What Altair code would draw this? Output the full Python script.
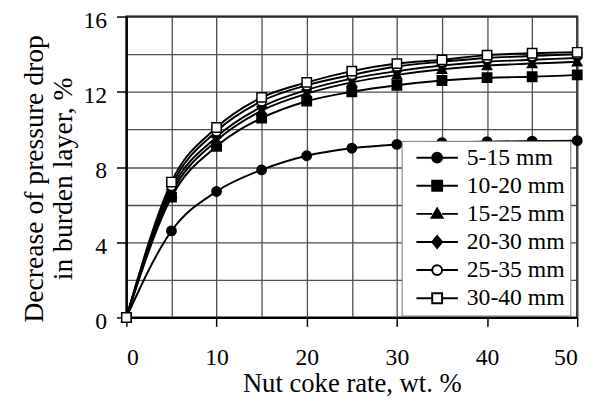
import altair as alt
import pandas as pd

x_vals = [0, 5, 10, 15, 20, 25, 30, 35, 40, 45, 50]
series_names = ["5-15 mm", "10-20 mm", "15-25 mm", "20-30 mm", "25-35 mm", "30-40 mm"]
s_5_15 = [0, 4.6, 6.7, 7.85, 8.6, 9.0, 9.2, 9.3, 9.35, 9.38, 9.4]
s_10_20 = [0, 6.4, 9.1, 10.6, 11.5, 12.0, 12.35, 12.6, 12.75, 12.8, 12.9]
s_15_25 = [0, 6.6, 9.4, 11.0, 11.9, 12.5, 12.9, 13.2, 13.4, 13.5, 13.6]
s_20_30 = [0, 6.8, 9.6, 11.2, 12.1, 12.7, 13.1, 13.4, 13.6, 13.7, 13.8]
s_25_35 = [0, 7.0, 9.9, 11.5, 12.35, 12.9, 13.35, 13.6, 13.8, 13.9, 14.0]
s_30_40 = [0, 7.2, 10.1, 11.7, 12.5, 13.1, 13.5, 13.7, 13.95, 14.05, 14.1]

all_series = [s_5_15, s_10_20, s_15_25, s_20_30, s_25_35, s_30_40]
rows = []
for name, vals in zip(series_names, all_series):
    for xv, yv in zip(x_vals, vals):
        rows.append({"x": xv, "y": yv, "series": name})
df = pd.DataFrame(rows)

plot_shapes = ["circle", "square", "triangle-up", "diamond", "circle", "square"]
fills = ["black", "black", "black", "black", "white", "white"]
strokes = ["black"] * 6

ln = "M-4.2,0H-1M1,0H4.2"
legend_paths = [
    ln + "M1,0A1,1,0,1,1,-1,0A1,1,0,1,1,1,0Z",
    ln + "M-1,-1H1V1H-1Z",
    ln + "M0,-1.1L1.1,0.8H-1.1Z",
    ln + "M0,-1.2L1,0L0,1.2L-1,0Z",
    ln + "M1,0A1,1,0,1,1,-1,0A1,1,0,1,1,1,0Z",
    ln + "M-1,-1H1V1H-1Z",
]

FONT = "Liberation Serif"

x_enc = alt.X(
    "x:Q",
    scale=alt.Scale(domain=[0, 50], nice=False),
    axis=alt.Axis(
        values=[0, 5, 10, 15, 20, 25, 30, 35, 40, 45, 50],
        labelExpr="datum.value % 10 === 0 ? datum.label : ''",
        tickOpacity={"condition": {"test": "datum.value % 10 === 0", "value": 1}, "value": 0},
        tickSize=9,
        labelPadding=20,
        labelFontSize=24,
        title="Nut coke rate, wt. %",
        titleFontSize=27,
        titlePadding=1,
    ),
)
y_enc = alt.Y(
    "y:Q",
    scale=alt.Scale(domain=[0, 16], nice=False),
    axis=alt.Axis(
        values=[0, 2, 4, 6, 8, 10, 12, 14, 16],
        labelExpr="datum.value % 4 === 0 ? datum.label : ''",
        tickOpacity={"condition": {"test": "datum.value % 4 === 0", "value": 1}, "value": 0},
        tickSize=10,
        labelPadding=10,
        labelOffset=4,
        labelFontSize=24,
        title=["Decrease of  pressure drop", "in burden layer, %"],
        titleFontSize=28,
        titlePadding=6,
        titleLineHeight=29,
        titleY=164,
    ),
)

base = alt.Chart(df)

lines = base.mark_line(color="black", strokeWidth=2, interpolate="monotone").encode(
    x=x_enc, y=y_enc, detail="series:N"
)

points = base.mark_point(filled=True, size=90, stroke="black", strokeWidth=1.5, opacity=1).encode(
    x=x_enc,
    y=y_enc,
    shape=alt.Shape("series:N", scale=alt.Scale(domain=series_names, range=plot_shapes), legend=None),
    fill=alt.Fill("series:N", scale=alt.Scale(domain=series_names, range=fills), legend=None),
)

leg = dict(
    title=None,
    orient="none",
    legendX=279,
    legendY=126,
    labelFont=FONT,
    labelFontSize=24,
    labelColor="black",
    labelAlign="left",
    symbolSize=100,
    symbolStrokeWidth=2,
    symbolOpacity=1,
    symbolOffset=19,
    labelOffset=18,
    rowPadding=4.5,
    padding=5,
    strokeColor="#777777",
    fillColor="white",
    labelLimit=300,
)

legend_layer = base.mark_point(filled=True, size=100, strokeWidth=2, opacity=1).encode(
    x=x_enc,
    y=y_enc,
    shape=alt.Shape("series:N", scale=alt.Scale(domain=series_names, range=legend_paths), legend=alt.Legend(**leg)),
    fill=alt.Fill("series:N", scale=alt.Scale(domain=series_names, range=fills), legend=alt.Legend(**leg)),
    stroke=alt.Stroke("series:N", scale=alt.Scale(domain=series_names, range=strokes), legend=alt.Legend(**leg)),
).transform_filter("datum.x < 0")

chart = (
    alt.layer(lines, points, legend_layer)
    .resolve_scale(shape="independent", fill="independent", stroke="independent")
    .properties(
        width=457,
        height=305,
        autosize=alt.AutoSizeParams(type="none"),
        padding={"left": 120, "top": 6, "right": 17, "bottom": 82},
    )
    .configure_view(stroke="black", strokeWidth=2)
    .configure_axis(
        labelFont=FONT,
        labelColor="black",
        titleFont=FONT,
        titleFontWeight="normal",
        titleColor="black",
        gridColor="#4d4d4d",
        gridWidth=1.3,
        gridOpacity=1,
        domainColor="black",
        domainWidth=2,
        tickColor="black",
        tickWidth=1.5,
    )
)

chart.save("out.html", embed_options={"renderer": "svg", "actions": False})
